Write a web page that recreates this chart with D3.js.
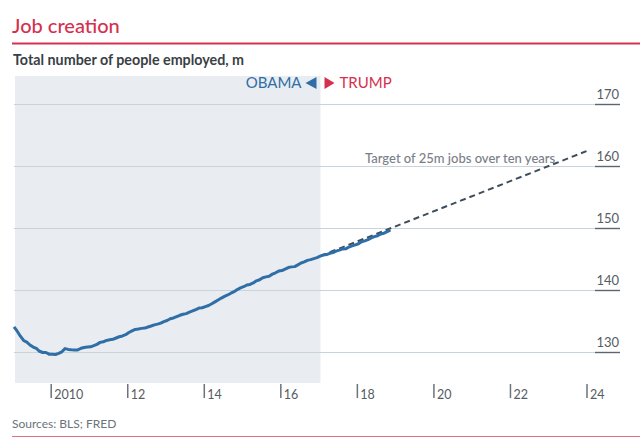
<!DOCTYPE html>
<html><head><meta charset="utf-8">
<script src="https://cdn.jsdelivr.net/npm/d3@7"></script>
<style>
body{margin:0;background:#fff;}
svg{display:block;font-family:Lato,"Open Sans",sans-serif;}
</style></head><body>
<svg id="c" width="640" height="448"></svg>
<script>
const years = [2009,2010,2011,2012,2013,2014,2015,2016,2017,2018];
const employed = [
 [134.05,133.35,132.55,131.86,131.59,131.13,130.79,130.57,130.12,129.92,129.92,129.65],
 [129.65,129.60,129.77,130.03,130.55,130.42,130.36,130.34,130.34,130.60,130.73,130.80],
 [130.83,131.02,131.23,131.55,131.65,131.87,131.96,132.05,132.26,132.46,132.59,132.79],
 [133.15,133.41,133.64,133.71,133.81,133.86,134.03,134.19,134.38,134.50,134.66,134.91],
 [135.08,135.36,135.49,135.70,135.92,136.09,136.19,136.42,136.62,136.85,137.09,137.14],
 [137.33,137.50,137.78,138.09,138.40,138.70,138.98,139.20,139.48,139.73,140.07,140.33],
 [140.53,140.81,140.90,141.14,141.48,141.65,141.98,142.12,142.23,142.56,142.78,143.05],
 [143.14,143.38,143.62,143.73,143.77,144.06,144.35,144.53,144.78,144.90,145.07,145.23],
 [145.47,145.64,145.71,145.92,146.05,146.26,146.43,146.63,146.64,146.93,147.12,147.29],
 [147.46,147.79,147.92,148.12,148.39,148.61,148.76,149.04,149.16,149.40,149.70]
];
const targetYears = [2017.05, 2024.0];
const targetValues = [145.5, 162.4];
const obamaEnd = 2017.05;
const xTicks = [2010,2012,2014,2016,2018,2020,2022,2024];
const yTicks = [130,140,150,160,170];

const series = [];
years.forEach((yr,i)=>employed[i].forEach((v,m)=>series.push({t:yr+(m+0.5)/12,v})));
const target = targetYears.map((t,i)=>({t,v:targetValues[i]}));

const svg = d3.select("#c");
const x = d3.scaleLinear().domain([2010,2024]).range([50.7,586.5]);
const y = d3.scaleLinear().domain([130,170]).range([352,104]);

// title
svg.append("text").attr("x",12).attr("y",33).attr("fill","#d5304e")
  .style("font-size","20px").style("font-weight","500").text("Job creation");
svg.append("rect").attr("x",12).attr("y",42.5).attr("width",628).attr("height",2).attr("fill","#d5304e");
svg.append("text").attr("x",13).attr("y",65).attr("fill","#3a3f45")
  .style("font-size","14.3px").style("font-weight","700").text("Total number of people employed, m");

// shaded obama region
svg.append("rect").attr("x",15).attr("y",76).attr("width",x(obamaEnd)-15).attr("height",307).attr("fill","#e9edf1");

// y grid + labels
const yAxis = d3.axisLeft(y).tickValues(yTicks).tickSize(606).tickFormat(d3.format("d"));
const gy = svg.append("g").attr("transform","translate(620,0)").call(yAxis);
gy.select(".domain").remove();
gy.selectAll(".tick line").attr("stroke","#c9d3db").attr("stroke-width",1.2);
gy.selectAll(".tick").append("line").attr("x1",-25).attr("x2",0).attr("stroke","#5c6670").attr("stroke-width",1.4);
gy.selectAll(".tick text").attr("x",-1).attr("dy","-0.45em").attr("text-anchor","end")
  .attr("fill","#555c63").style("font-size","13px").style("font-family","Lato,sans-serif");

// x axis
const xAxis = d3.axisBottom(x).tickValues(xTicks).tickSize(14).tickFormat(d=>d===2010?"2010":String(d).slice(2));
const gx = svg.append("g").attr("transform","translate(0,384)").call(xAxis);
gx.select(".domain").remove();
gx.selectAll(".tick line").attr("stroke","#6b737b").attr("stroke-width",1.5);
gx.selectAll(".tick text").attr("x",3).attr("y",14.5).attr("dy",0).attr("text-anchor","start")
  .attr("fill","#555c63").style("font-size","12.5px").style("font-family","Lato,sans-serif");

// target dashed line
const line = d3.line().x(d=>x(d.t)).y(d=>y(d.v));
svg.append("path").datum(target).attr("d",line).attr("fill","none")
  .attr("stroke","#3d4d5c").attr("stroke-width",2).attr("stroke-dasharray","6,4");
// employment line
svg.append("path").datum(series).attr("d",line).attr("fill","none")
  .attr("stroke","#2f6ea6").attr("stroke-width",3).attr("stroke-linejoin","round");

svg.append("text").attr("x",365).attr("y",163).attr("fill","#7a8088")
  .style("font-size","13px").style("font-weight","500").text("Target of 25m jobs over ten years");

// legend
const xo = x(obamaEnd);
svg.append("text").attr("x",xo-19).attr("y",88).attr("text-anchor","end").attr("fill","#2f6ea6")
  .style("font-size","15px").text("OBAMA");
svg.append("path").attr("d",`M${xo-4},${77} L${xo-4},${89} L${xo-15},${83} Z`).attr("fill","#2f6ea6");
svg.append("path").attr("d",`M${xo+4},${77} L${xo+4},${89} L${xo+14},${83} Z`).attr("fill","#d5304e");
svg.append("text").attr("x",xo+19).attr("y",88).attr("fill","#d5304e")
  .style("font-size","15px").text("TRUMP");

// footer
svg.append("text").attr("x",12).attr("y",428).attr("fill","#6b737b")
  .style("font-size","12px").text("Sources: BLS; FRED");
svg.append("rect").attr("x",12).attr("y",436).attr("width",628).attr("height",1).attr("fill","#e0707f");
</script>
</body></html>
